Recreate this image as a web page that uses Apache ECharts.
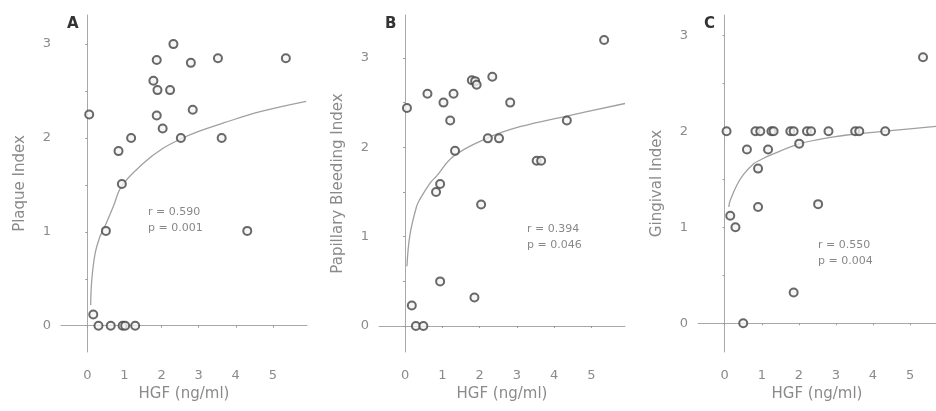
<!DOCTYPE html>
<html>
<head>
<meta charset="utf-8">
<script src="https://cdn.jsdelivr.net/npm/echarts@6/dist/echarts.min.js"></script>
<style>
  html, body { margin: 0; padding: 0; background: #fff; }
  #chart { width: 936px; height: 411px; }
</style>
</head>
<body>
<div id="chart"></div>
<script>
// tick labels
const xTicks = [0, 1, 2, 3, 4, 5]
const yTicks = [0, 1, 2, 3]
const yMinorTicks = [0, 0.5, 1, 1.5, 2, 2.5, 3]

// A: plaque index vs HGF
const hgfA = [0.05, 0.16, 0.30, 0.63, 0.95, 1.02, 1.29, 0.50, 0.93, 0.84, 1.18, 1.78, 1.87, 1.89, 2.23, 1.87, 2.03, 2.32, 2.52, 2.79, 2.84, 3.52, 3.62, 4.31, 5.35]
const plaqueA = [2.25, 0.12, 0, 0, 0, 0, 0, 1.01, 1.51, 1.86, 2.0, 2.61, 2.83, 2.51, 2.51, 2.24, 2.10, 3.0, 2.0, 2.80, 2.30, 2.85, 2.0, 1.01, 2.85]
const fitAx = [0.09, 0.12, 0.21, 0.34, 0.43, 0.70, 0.93, 1.51, 2.0, 2.52, 3.0, 3.67, 4.66, 5.9]
const fitAy = [0.22, 0.49, 0.77, 0.95, 1.02, 1.27, 1.49, 1.73, 1.88, 1.99, 2.07, 2.16, 2.28, 2.39]

// B: papillary bleeding index vs HGF
const hgfB = [0.05, 0.18, 0.29, 0.49, 0.60, 0.83, 0.94, 0.94, 1.03, 1.21, 1.30, 1.34, 1.79, 1.88, 1.92, 1.86, 2.04, 2.22, 2.34, 2.52, 2.82, 3.53, 3.65, 4.34, 5.34]
const pbiB = [2.44, 0.23, 0, 0, 2.60, 1.50, 1.59, 0.50, 2.50, 2.30, 2.60, 1.96, 2.75, 2.74, 2.70, 0.32, 1.36, 2.10, 2.79, 2.10, 2.50, 1.85, 1.85, 2.30, 3.20]
const fitBx = [0.05, 0.13, 0.31, 0.40, 0.67, 0.85, 1.30, 2.19, 3.08, 4.34, 5.9]
const fitBy = [0.67, 1.02, 1.34, 1.42, 1.60, 1.68, 1.90, 2.10, 2.23, 2.35, 2.49]

// C: gingival index vs HGF
const hgfC = [0.05, 0.15, 0.29, 0.50, 0.60, 0.83, 0.96, 0.90, 0.90, 1.17, 1.26, 1.32, 1.77, 1.86, 2.01, 1.86, 2.22, 2.33, 2.52, 2.80, 3.52, 3.63, 4.33, 5.35]
const giC = [2.0, 1.12, 1.0, 0, 1.81, 2.0, 2.0, 1.61, 1.21, 1.81, 2.0, 2.0, 2.0, 2.0, 1.87, 0.32, 2.0, 2.0, 1.24, 2.0, 2.0, 2.0, 2.0, 2.77]
const fitCx = [0.11, 0.15, 0.33, 0.51, 0.78, 0.96, 1.23, 2.04, 2.94, 3.3, 4.33, 5.7]
const fitCy = [1.21, 1.28, 1.44, 1.55, 1.66, 1.70, 1.75, 1.87, 1.94, 1.96, 2.0, 2.05]

const zip = (xs, ys) => xs.map((x, i) => [x, ys[i]])

const font = 'DejaVu Sans'
const grey = '#8a8a8a'

const panels = [
  { left: 61, width: 246, xMin: -0.71, xMax: 5.92, yMin: -0.28, yMax: 3.31, name: 'Plaque Index',
    pts: zip(hgfA, plaqueA), fit: zip(fitAx, fitAy), letter: 'A', stats: ['r = 0.590', 'p = 0.001'], sx: 148, sy: 204 },
  { left: 379, width: 246, xMin: -0.70, xMax: 5.9, yMin: -0.29, yMax: 3.48, name: 'Papillary Bleeding Index',
    pts: zip(hgfB, pbiB), fit: zip(fitBx, fitBy), letter: 'B', stats: ['r = 0.394', 'p = 0.046'], sx: 527, sy: 221 },
  { left: 698, width: 238, xMin: -0.72, xMax: 5.7, yMin: -0.30, yMax: 3.21, name: 'Gingival Index',
    pts: zip(hgfC, giC), fit: zip(fitCx, fitCy), letter: 'C', stats: ['r = 0.550', 'p = 0.004'], sx: 818, sy: 237 },
]

const axisLine = { lineStyle: { color: '#a8a8a8', width: 1 } }

const option = {
  backgroundColor: '#fff',
  animation: false,
  grid: panels.map(p => ({ left: p.left, width: p.width, top: 15, height: 337 })),
  xAxis: panels.map((p, i) => ({
    type: 'value', gridIndex: i, min: p.xMin, max: p.xMax,
    name: 'HGF (ng/ml)', nameLocation: 'middle', nameGap: 33,
    nameTextStyle: { fontFamily: font, fontSize: 15, color: grey },
    axisLine: axisLine,
    axisTick: { show: true, length: 2, customValues: xTicks, lineStyle: { color: '#999' } },
    axisLabel: { customValues: xTicks, margin: 17, fontFamily: font, fontSize: 13, color: grey },
    splitLine: { show: false },
  })),
  yAxis: panels.map((p, i) => ({
    type: 'value', gridIndex: i, min: p.yMin, max: p.yMax,
    name: p.name, nameLocation: 'middle', nameGap: 33, nameRotate: 90,
    nameTextStyle: { fontFamily: font, fontSize: 15, color: grey },
    axisLine: axisLine,
    axisTick: { show: true, length: 2, customValues: yMinorTicks, lineStyle: { color: '#999' } },
    axisLabel: { customValues: yTicks, margin: 10, fontFamily: font, fontSize: 13, color: grey },
    splitLine: { show: false },
  })),
  series: panels.flatMap((p, i) => [
    {
      type: 'line', xAxisIndex: i, yAxisIndex: i, data: p.fit, smooth: 0.4,
      showSymbol: false, lineStyle: { color: '#a0a0a0', width: 1.3 }, z: 1,
    },
    {
      type: 'scatter', xAxisIndex: i, yAxisIndex: i, data: p.pts, symbol: 'circle', symbolSize: 8,
      itemStyle: { color: '#f4f4f4', borderColor: '#444', borderWidth: 2 }, z: 2,
    },
  ]),
  graphic: panels.flatMap(p => [
    { type: 'text', left: p.left + 6, top: 17,
      style: { text: p.letter, font: 'bold 15px ' + font, fill: '#333' } },
    { type: 'text', left: p.sx, top: p.sy,
      style: { text: p.stats.join('\n'), font: '11px ' + font, fill: '#888', lineHeight: 16 } },
  ]),
}

const myChart = echarts.init(document.getElementById('chart'))
myChart.setOption(option)
</script>
</body>
</html>
